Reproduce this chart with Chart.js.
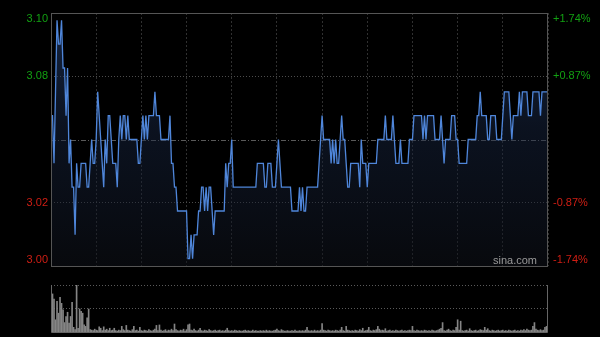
<!DOCTYPE html>
<html>
<head>
<meta charset="utf-8">
<script src="https://cdn.jsdelivr.net/npm/chart.js@4.4.0/dist/chart.umd.min.js"></script>
<style>
    html, body { margin: 0; padding: 0; background: #000; }
    #wrap { position: relative; width: 600px; height: 337px; }
    #wrap canvas { position: absolute; left: 0; top: 0; }
</style>
</head>
<body>
<div id="wrap">
    <canvas id="priceChart" width="600" height="337"></canvas>
    <canvas id="volumeChart" width="600" height="337"></canvas>
</div>
<script>
// one value per trading minute (09:30-12:00, 13:00-16:00)
const prevClose = 3.05;
const prices = [
    3.06,3.06,3.04,3.07,3.10,3.09,3.09,3.10,3.08,3.08,
    3.06,3.08,3.04,3.05,3.03,3.03,3.01,3.04,3.03,3.03,
    3.04,3.04,3.04,3.04,3.03,3.03,3.04,3.05,3.04,3.04,
    3.05,3.07,3.06,3.05,3.04,3.03,3.05,3.04,3.06,3.06,
    3.05,3.04,3.04,3.04,3.03,3.05,3.06,3.05,3.06,3.06,
    3.05,3.06,3.05,3.05,3.05,3.05,3.05,3.05,3.04,3.04,
    3.05,3.06,3.05,3.06,3.05,3.06,3.06,3.06,3.06,3.07,
    3.06,3.06,3.06,3.05,3.05,3.05,3.05,3.05,3.05,3.06,
    3.04,3.04,3.03,3.03,3.02,3.02,3.02,3.02,3.02,3.02,
    3.02,3.00,3.00,3.01,3.00,3.01,3.01,3.01,3.02,3.02,
    3.03,3.03,3.02,3.03,3.02,3.03,3.03,3.02,3.01,3.02,
    3.02,3.02,3.02,3.02,3.02,3.02,3.04,3.03,3.04,3.04,
    3.05,3.03,3.03,3.03,3.03,3.03,3.03,3.03,3.03,3.03,
    3.03,3.03,3.03,3.03,3.03,3.03,3.03,3.04,3.04,3.04,
    3.04,3.04,3.03,3.03,3.04,3.04,3.04,3.03,3.03,3.03,
    3.04,3.05,3.04,3.03,3.03,3.03,3.03,3.03,3.03,3.03,
    3.02,3.02,3.02,3.02,3.02,3.03,3.02,3.03,3.02,3.02,
    3.03,3.03,3.03,3.03,3.03,3.03,3.03,3.03,3.04,3.05,
    3.06,3.05,3.05,3.05,3.05,3.05,3.04,3.05,3.04,3.05,
    3.04,3.04,3.05,3.06,3.05,3.05,3.04,3.03,3.03,3.04,
    3.04,3.04,3.04,3.04,3.04,3.03,3.05,3.04,3.04,3.04,
    3.03,3.04,3.04,3.04,3.04,3.04,3.04,3.05,3.05,3.05,
    3.05,3.05,3.06,3.05,3.05,3.05,3.05,3.06,3.05,3.04,
    3.04,3.04,3.05,3.04,3.04,3.04,3.04,3.04,3.05,3.05,
    3.05,3.06,3.06,3.06,3.06,3.06,3.06,3.05,3.06,3.05,
    3.06,3.06,3.06,3.06,3.06,3.05,3.05,3.05,3.05,3.06,
    3.05,3.04,3.05,3.05,3.05,3.05,3.06,3.06,3.06,3.05,
    3.05,3.04,3.04,3.04,3.04,3.04,3.04,3.05,3.05,3.05,
    3.05,3.05,3.05,3.06,3.06,3.07,3.06,3.06,3.06,3.06,
    3.05,3.05,3.06,3.06,3.06,3.06,3.05,3.05,3.05,3.05,
    3.06,3.07,3.07,3.07,3.07,3.06,3.05,3.06,3.06,3.06,
    3.06,3.07,3.06,3.07,3.07,3.07,3.07,3.06,3.06,3.06,
    3.07,3.07,3.07,3.07,3.07,3.06,3.07,3.07,3.07,3.07,3.07
];
// volume, scaled so the panel top = 100
const volumes = [
    100,81,70,26,65,40,74,61,47,20,
    33,42,19,33,63,10,5,100,8,49,
    44,40,15,12,30,49,5,4,3,6,
    4,3,11,8,3,11,4,6,3,8,
    3,4,8,3,2,4,3,12,5,3,
    14,4,3,2,5,12,3,4,2,10,
    3,2,4,3,2,5,3,2,4,6,
    14,3,15,4,2,3,5,2,4,3,
    6,3,17,5,3,2,4,3,6,2,
    5,15,17,4,3,6,3,2,4,8,
    3,2,4,3,2,5,3,2,3,4,
    2,3,4,2,3,2,4,8,3,2,
    3,2,4,3,2,3,2,2,3,4,
    2,3,2,2,4,2,3,2,2,3,
    2,3,2,4,2,3,2,2,3,4,
    6,3,2,5,3,2,2,3,2,2,
    3,2,4,2,2,3,2,3,2,4,
    10,3,2,3,2,4,2,3,2,4,
    18,4,3,2,4,3,2,3,2,4,
    3,2,4,10,3,2,12,4,3,2,
    3,2,4,3,2,5,3,8,2,3,
    4,10,3,2,4,3,5,12,6,3,
    4,3,7,2,3,4,2,3,2,4,
    3,2,3,4,2,3,2,3,4,3,
    12,3,2,4,3,2,3,2,4,3,
    2,3,2,4,3,2,3,4,6,8,
    20,3,2,4,6,3,2,4,3,10,
    26,4,23,3,2,3,4,2,7,3,
    2,3,4,2,3,5,4,3,10,4,
    7,3,2,4,3,2,3,4,2,3,
    4,2,3,2,4,3,2,3,4,2,
    3,2,4,3,5,3,6,4,3,4,
    12,20,6,4,3,5,3,4,10,12,5
];
const pctLevels = [1.74, 0.87, -0.87, -1.74];
const leftLabels = ['3.10', '3.08', '3.02', '3.00'];
const rightLabels = ['+1.74%', '+0.87%', '-0.87%', '-1.74%'];

const minutes = prices.map((p, i) => i);
const yMin = prevClose * (1 - 0.0174);
const yMax = prevClose * (1 + 0.0174);

const priceDecor = {
    id: 'priceDecor',
    beforeDatasetsDraw(chart) {
        const {ctx, chartArea: a, scales: {y}} = chart;
        const py = Math.round(y.getPixelForValue(prevClose)) + 0.5;
        ctx.save();
        ctx.strokeStyle = '#5a5a5a';
        ctx.lineWidth = 1;
        ctx.setLineDash([5, 2, 1, 2]);
        ctx.beginPath();
        ctx.moveTo(a.left, py);
        ctx.lineTo(a.right, py);
        ctx.stroke();
        ctx.restore();
    },
    afterDraw(chart) {
        const {ctx, chartArea: a, scales: {y}} = chart;
        ctx.save();
        ctx.strokeStyle = '#555';
        ctx.lineWidth = 1;
        ctx.strokeRect(a.left + 0.5, a.top + 0.5, a.right - a.left - 1, a.bottom - a.top);
        ctx.font = '11px "Liberation Sans", Arial, sans-serif';
        ctx.textBaseline = 'middle';
        pctLevels.forEach((p, i) => {
            let py = y.getPixelForValue(prevClose * (1 + p / 100));
            py = Math.min(Math.max(py, a.top + 6), a.bottom - 6);
            ctx.fillStyle = p > 0 ? '#12a012' : '#d01e14';
            ctx.textAlign = 'right';
            ctx.fillText(leftLabels[i], a.left - 3, py);
            ctx.textAlign = 'left';
            ctx.fillText(rightLabels[i], a.right + 5, py);
        });
        ctx.fillStyle = '#9a9a9a';
        ctx.textAlign = 'right';
        ctx.fillText('sina.com', a.right - 11, a.bottom - 5);
        ctx.restore();
    }
};

const volumeDecor = {
    id: 'volumeDecor',
    afterDraw(chart) {
        const {ctx, chartArea: a} = chart;
        ctx.save();
        ctx.strokeStyle = '#666';
        ctx.lineWidth = 1;
        ctx.beginPath();
        ctx.moveTo(a.left + 0.5, a.top);
        ctx.lineTo(a.left + 0.5, a.bottom + 0.5);
        ctx.lineTo(a.right - 0.5, a.bottom + 0.5);
        ctx.lineTo(a.right - 0.5, a.top);
        ctx.stroke();
        ctx.restore();
    }
};

const priceCtx = document.getElementById('priceChart').getContext('2d');
new Chart(priceCtx, {
    type: 'line',
    data: {
        labels: minutes,
        datasets: [{
            data: prices,
            borderColor: '#4f86da',
            borderWidth: 1.3,
            pointRadius: 0,
            tension: 0,
            fill: 'start',
            backgroundColor: function(context) {
                const {ctx, chartArea} = context.chart;
                if (!chartArea) return null;
                const g = ctx.createLinearGradient(0, chartArea.top, 0, chartArea.bottom);
                g.addColorStop(0, 'rgba(40, 70, 125, 0.55)');
                g.addColorStop(0.45, 'rgba(25, 40, 70, 0.45)');
                g.addColorStop(1, 'rgba(15, 18, 26, 0.5)');
                return g;
            }
        }]
    },
    options: {
        responsive: false,
        animation: false,
        layout: { padding: { left: 51, top: 13, right: 52, bottom: 71 } },
        plugins: { legend: { display: false }, tooltip: { enabled: false } },
        scales: {
            x: {
                type: 'linear', min: 0, max: 330,
                ticks: { display: false, stepSize: 30 },
                grid: { color: '#303030', drawTicks: false },
                border: { display: false, dash: [2, 2] },
                afterFit: s => { s.height = 0; }
            },
            y: {
                min: yMin, max: yMax,
                ticks: { display: false },
                afterBuildTicks: s => {
                    s.ticks = [{ value: prevClose * (1 - 0.0087) }, { value: prevClose * (1 + 0.0087) }];
                },
                grid: { color: '#4c4c4c', drawTicks: false },
                border: { display: false, dash: [1, 2] },
                afterFit: s => { s.width = 0; }
            }
        }
    },
    plugins: [priceDecor]
});

const volumeCtx = document.getElementById('volumeChart').getContext('2d');
new Chart(volumeCtx, {
    type: 'bar',
    data: {
        labels: minutes,
        datasets: [{
            data: volumes,
            backgroundColor: '#858585',
            barThickness: 1
        }]
    },
    options: {
        responsive: false,
        animation: false,
        layout: { padding: { left: 51, top: 285, right: 52, bottom: 5 } },
        plugins: { legend: { display: false }, tooltip: { enabled: false } },
        scales: {
            x: {
                offset: false,
                ticks: { display: false },
                grid: { display: false },
                border: { display: false },
                afterFit: s => { s.height = 0; }
            },
            y: {
                min: 0, max: 100,
                ticks: { display: false },
                afterBuildTicks: s => { s.ticks = [{ value: 50 }, { value: 100 }]; },
                grid: { color: '#5a5a5a', drawTicks: false },
                border: { display: false, dash: [1, 2] },
                afterFit: s => { s.width = 0; }
            }
        }
    },
    plugins: [volumeDecor]
});
</script>
</body>
</html>
